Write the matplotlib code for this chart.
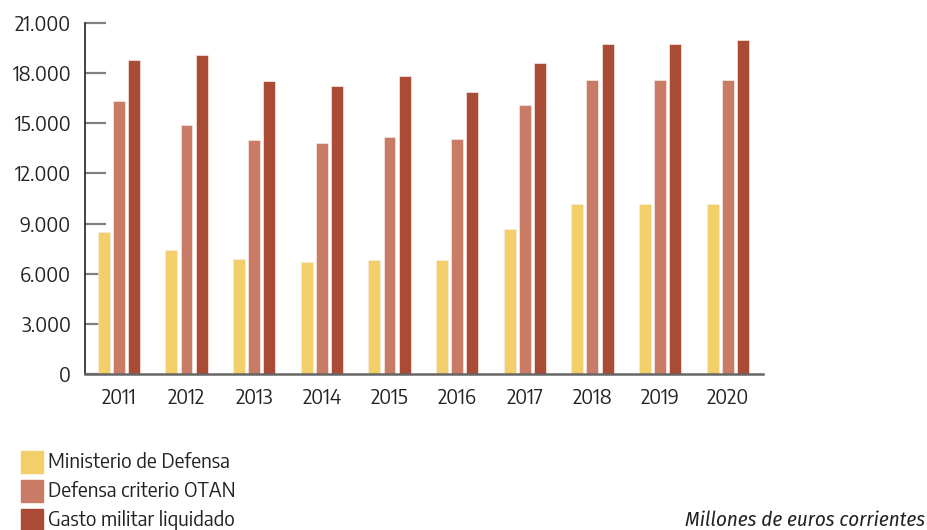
import matplotlib
matplotlib.use("Agg")
import matplotlib.pyplot as plt
import matplotlib.patches as mpatches
import numpy as np

plt.rcParams['font.family'] = ['Encode Sans Semi Condensed', 'DejaVu Sans']

years = ['2011', '2012', '2013', '2014', '2015', '2016', '2017', '2018', '2019', '2020']
series_names = ['Ministerio de Defensa', 'Defensa criterio OTAN', 'Gasto militar liquidado']
ministerio = [8500, 7420, 6880, 6720, 6800, 6800, 8660, 10150, 10150, 10150]
otan = [16340, 14900, 14000, 13820, 14160, 14080, 16080, 17600, 17600, 17600]
liquidado = [18770, 19090, 17520, 17250, 17830, 16860, 18590, 19770, 19770, 20000]
colors = ['#F3CF69', '#C97B65', '#A94B35']
yticks = [0, 3000, 6000, 9000, 12000, 15000, 18000, 21000]
ytick_labels = ['0', '3.000', '6.000', '9.000', '12.000', '15.000', '18.000', '21.000']

W, H = 928, 530
fig = plt.figure(figsize=(W / 100, H / 100), dpi=100)
ax = fig.add_axes([85 / W, (H - 374) / H, 678 / W, 351 / H])

x = np.arange(len(years))
offsets = [-0.226, 0, 0.226]
for vals, off, c in zip([ministerio, otan, liquidado], offsets, colors):
    ax.bar(x + off, vals, width=0.177, color=c, edgecolor='#f7e9e4', linewidth=0.5, zorder=2)

ax.set_xlim(-0.5, 9.52)
ax.set_ylim(0, 21000)
ax.set_yticks(yticks)
ax.set_yticklabels(ytick_labels)
ax.set_xticks(x)
ax.set_xticklabels(years)

for s in ['top', 'right']:
    ax.spines[s].set_visible(False)
ax.spines['left'].set_color('#222222')
ax.spines['left'].set_linewidth(1.2)
ax.spines['bottom'].set_color('#666666')
ax.spines['bottom'].set_linewidth(1.8)
ax.tick_params(axis='y', direction='in', length=15, width=1.6, color='#808080',
               labelsize=14.6, labelcolor='#222222', pad=10)
ax.tick_params(axis='x', length=0, labelsize=14.6, labelcolor='#222222', pad=10)

# legend drawn by hand at bottom left
for i, (name, c) in enumerate(zip(series_names, colors)):
    top = 451 + i * 29
    fig.patches.append(mpatches.Rectangle((21 / W, (H - top - 22) / H), 22 / W, 22 / H,
                                          transform=fig.transFigure, color=c))
    fig.text(48 / W, (H - top - 11) / H, name, fontsize=14.6, color='#222222',
             ha='left', va='center')

fig.text(925 / W, (H - 520) / H, 'Millones de euros corrientes', fontsize=15,
         family=['Fira Sans Condensed', 'DejaVu Sans'], style='italic',
         color='#222222', ha='right', va='center')

fig.savefig('out.png', dpi=100)
